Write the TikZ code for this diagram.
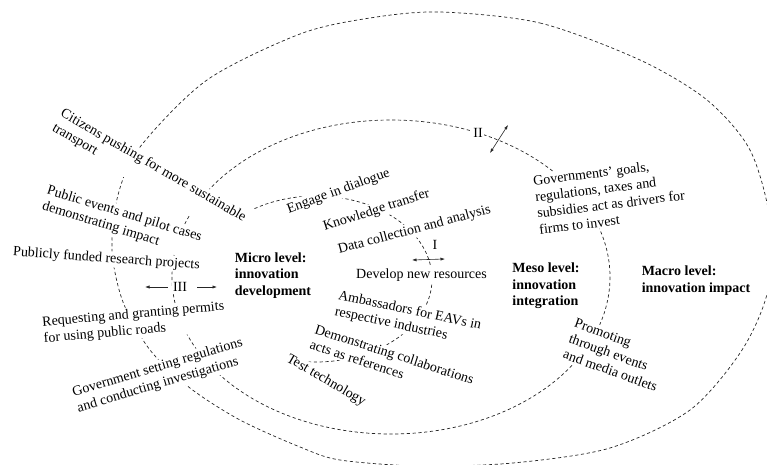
\documentclass[tikz,border=0pt]{standalone}
\usepackage{fontspec}
\setmainfont{Liberation Serif}
\usetikzlibrary{arrows.meta}
\begin{document}
\begin{tikzpicture}[x=1pt,y=-1pt,
  ring/.style={draw=black!85, line width=0.7pt, dash pattern=on 3.2pt off 2.6pt},
  lbl/.style={fill=white, inner sep=1.5pt, align=left, font=\fontsize{14}{16.5}\selectfont},
  lvl/.style={fill=white, inner sep=1.5pt, align=left, font=\fontsize{14}{16.5}\selectfont\bfseries},
  roman/.style={fill=white, inner sep=1pt, font=\fontsize{14}{16}\selectfont},
  arr/.style={line width=0.6pt, draw=black!85, -{Latex[length=4.5pt,width=3.2pt]}},
  darr/.style={line width=0.6pt, draw=black!85, {Latex[length=4.5pt,width=3.2pt]}-{Latex[length=4.5pt,width=3.2pt]}}]
\useasboundingbox (0,0) rectangle (767,465);
\begin{scope}
\clip (0,0) rectangle (767,465);
\draw[ring] plot[smooth cycle] coordinates {(440,12) (540,23) (640,60) (707,100) (750,150) (770,220) (768,290) (742,350) (690,410) (610,448) (513,463) (420,466) (340,460) (300,447) (240,420) (190,388) (150,350) (123,302) (112,250) (118,195) (140,147) (207,80) (300,34) (370,18)};
\draw[ring] (391,277) ellipse [x radius=219, y radius=157];
\draw[ring] (316,279) ++(-122:116 and 83) arc[start angle=-122, end angle=95, x radius=116, y radius=83];
\end{scope}
\node[lbl, rotate=-30] (citizens) at (149,173) {Citizens pushing for more sustainable\\transport};
\node[lbl, rotate=-17] (publicev) at (122,222) {Public events and pilot cases\\demonstrating impact};
\node[lbl, rotate=-4] (funded) at (106.5,259) {Publicly funded research projects};
\node[lbl, rotate=5] (permits) at (134,323) {Requesting and granting permits\\for using public roads};
\node[lbl, rotate=16.5] (govset) at (160,376) {Government setting regulations\\and conducting investigations};
\node[lbl, rotate=20] (engage) at (338.5,191.5) {Engage in dialogue};
\node[lbl, rotate=18] (knowledge) at (376.5,210.5) {Knowledge transfer};
\node[lbl, rotate=15] (datacoll) at (414.5,230) {Data collection and analysis};
\node[lbl] (develop) at (421.5,275) {Develop new resources};
\node[lbl, rotate=-12] (ambass) at (408,319) {Ambassadors for EAVs in\\respective industries};
\node[lbl, rotate=-18] (demo) at (392,362) {Demonstrating collaborations\\acts as references};
\node[lbl, rotate=-30] (testtech) at (326,380.5) {Test technology};
\node[lbl, rotate=7] (govgoals) at (610,196) {Governments’ goals,\\regulations, taxes and\\subsidies act as drivers for\\firms to invest};
\node[lbl, rotate=-20] (promo) at (616,355) {Promoting\\through events\\and media outlets};
\node[lvl] (micro) at (273,275.5) {Micro level:\\innovation\\development};
\node[lvl] (meso) at (546,286) {Meso level:\\innovation\\integration};
\node[lvl] (macro) at (696,280.5) {Macro level:\\innovation impact};
\node[roman] (rIII) at (180,287) {III};
\node[roman] (rII) at (478,133) {II};
\node[roman, fill=none] (rI) at (435,245) {I};
\coordinate (IIIl) at (145,287);
\coordinate (IIIr) at (217,287);
\coordinate (IIa) at (490,153);
\coordinate (IIb) at (508,125);
\coordinate (Ia) at (412,260);
\coordinate (Ib) at (445,259);
\draw[arr, shorten <=4pt] (rIII.west) -- (IIIl);
\draw[arr, shorten <=9pt] (rIII.east) -- (IIIr);
\draw[darr] (IIa) -- (IIb);
\draw[darr] (Ia) -- (Ib);
\end{tikzpicture}
\end{document}
